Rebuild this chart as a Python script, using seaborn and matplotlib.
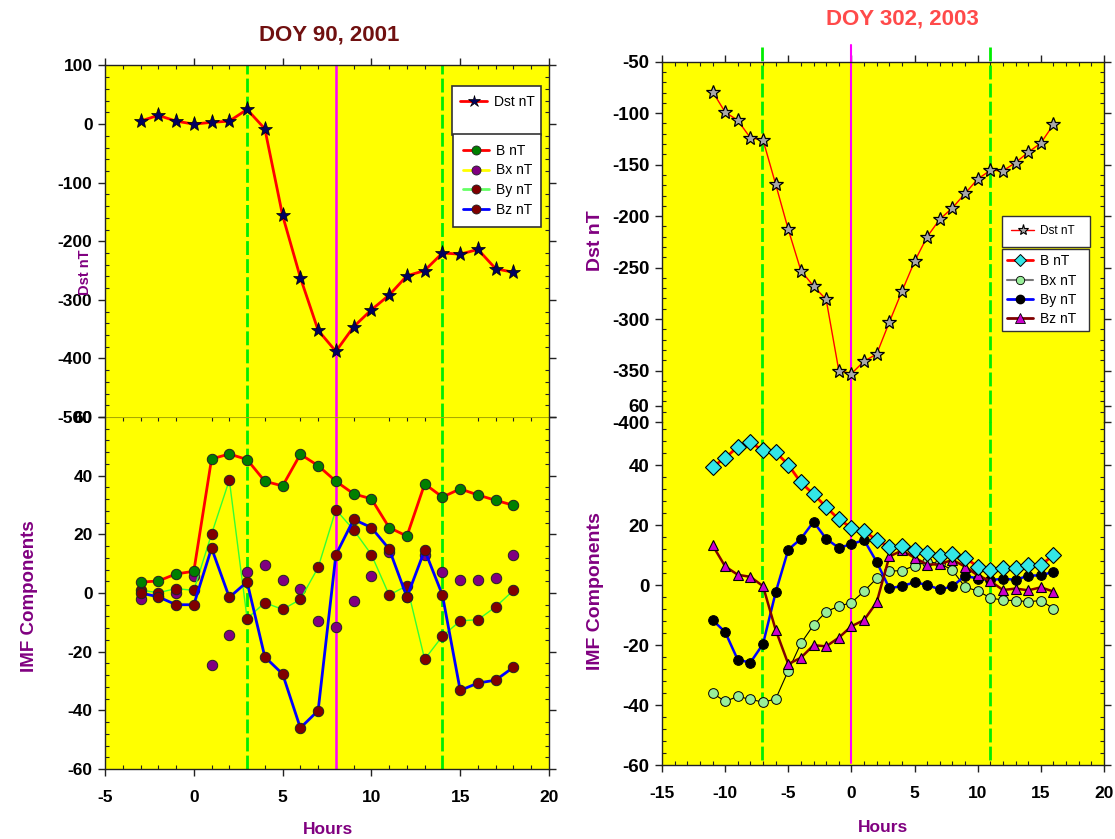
import numpy as np
import matplotlib
matplotlib.use("Agg")
import matplotlib.pyplot as plt
from matplotlib.lines import Line2D
from matplotlib.ticker import MultipleLocator
import seaborn as sns

# ---- DOY 90, 2001 (left) ----
hours_l = list(range(-3, 19))
dst_l = [5, 15, 5, 0, 3, 5, 25, -8, -156, -262, -352, -388, -346, -317,
         -292, -259, -250, -220, -222, -214, -247, -253]
b_l = [3.7, 4.1, 6.5, 7.4, 45.7, 47.4, 45.5, 38.1, 36.5, 47.3, 43.4, 38.1,
       33.8, 32.1, 22.3, 19.4, 37.2, 32.7, 35.5, 33.4, 31.6, 29.9]
bx_l = [-2.2, -1.0, 0.1, 5.8, -24.7, -14.2, 7.3, 9.5, 4.3, 1.4, -9.6, -11.7,
        -2.7, 5.9, 14.1, -1.4, 13.0, 7.3, 4.4, 4.4, 5.2, 13.0]
by_l = [1.0, 0.1, 1.5, 0.9, 20.1, 38.5, -8.7, -3.3, -5.6, -2.2, 8.7, 28.4,
        21.5, 13.1, -0.7, 2.5, -22.6, -14.7, -9.5, -9.1, -4.7, 0.9]
bz_l = [0.0, -1.3, -4.0, -4.0, 15.3, -1.5, 3.8, -21.8, -27.6, -46.0, -40.1,
        13.0, 25.1, 22.3, 15.0, -1.4, 14.6, -0.7, -33.2, -30.7, -29.7, -25.3]
vlines_l = [3, 14]
peak_l = 8

# ---- DOY 302, 2003 (right) ----
hours_r = list(range(-11, 17))
dst_r = [-79, -99, -107, -124, -126, -169, -213, -253, -268, -281, -350, -353,
         -341, -334, -303, -273, -244, -220, -203, -192, -178, -164, -155.5,
         -156, -148, -138, -129, -111]
b_r = [39.5, 42.5, 46.2, 47.7, 45.0, 44.5, 40.2, 34.3, 30.4, 26.1, 22.0, 19.2,
       18.2, 15.0, 12.9, 13.0, 11.8, 10.6, 9.9, 10.5, 9.2, 6.2, 5.1, 5.7, 5.8,
       6.8, 6.8, 10.0]
bx_r = [-36.0, -38.8, -37.1, -38.1, -39.0, -38.0, -28.5, -19.4, -13.3, -8.8,
        -7.0, -5.8, -2.0, 2.3, 4.7, 4.9, 6.5, 7.8, 7.3, 5.0, -0.6, -1.9, -4.2,
        -5.0, -5.1, -5.5, -5.1, -7.8]
by_r = [-11.6, -15.6, -24.9, -25.8, -19.6, -2.4, 11.9, 15.5, 21.2, 15.5, 12.5,
        13.7, 15.1, 7.8, -1.0, -0.3, 1.0, 0.1, -1.4, -0.4, 3.2, 2.2, 1.7, 2.2,
        1.8, 3.2, 3.3, 4.5]
bz_r = [13.4, 6.3, 3.5, 2.8, -0.3, -14.9, -26.3, -24.2, -20.0, -20.4, -17.5,
        -13.7, -11.6, -5.7, 9.6, 11.6, 9.2, 6.9, 7.0, 8.5, 6.2, 3.3, 1.4, -1.6,
        -1.1, -1.7, -0.7, -2.1]
vlines_r = [-7.1, 11]
peak_r = 0

sns.set_style("ticks")
plt.rcParams['font.family'] = ['Liberation Sans', 'DejaVu Sans']
plt.rcParams['font.weight'] = 'bold'
plt.rcParams['axes.unicode_minus'] = False
plt.rcParams['text.color'] = 'black'
plt.rcParams['xtick.color'] = '#222222'
plt.rcParams['ytick.color'] = '#222222'
plt.rcParams['xtick.labelcolor'] = 'black'
plt.rcParams['ytick.labelcolor'] = 'black'

W, H = 1115, 839
fig = plt.figure(figsize=(W / 100, H / 100), dpi=100)


def rect(x0, x1, y0, y1):
    return [x0 / W, 1 - y1 / H, (x1 - x0) / W, (y1 - y0) / H]


YEL = '#ffff00'
PURPLE = '#800080'


def style(ax, xmin, xmaj, ymin, ymaj, size, top=True, bottom=True):
    ax.set_facecolor(YEL)
    ax.xaxis.set_major_locator(MultipleLocator(xmaj))
    ax.xaxis.set_minor_locator(MultipleLocator(xmin))
    ax.yaxis.set_major_locator(MultipleLocator(ymaj))
    ax.yaxis.set_minor_locator(MultipleLocator(ymin))
    ax.tick_params(which='major', direction='out', length=5, width=1,
                   left=True, right=True, top=top, bottom=bottom,
                   labelsize=size, pad=4)
    ax.tick_params(which='minor', direction='in', length=3, width=0.8,
                   left=True, right=True, top=top, bottom=bottom)
    ax.tick_params(axis='x', pad=10, labelsize=12.5)
    for s in ax.spines.values():
        s.set_color('#222222')
        s.set_linewidth(1)
    ax.set_xlabel('')
    ax.set_ylabel('')


# ================= LEFT =================
axl_b = fig.add_axes(rect(105, 549, 417, 769))
axl_t = fig.add_axes(rect(105, 549, 65.5, 417))

sns.lineplot(x=hours_l, y=dst_l, ax=axl_t, color='red', lw=2, marker='*',
             ms=11, mfc='#000060', mec='black', mew=0.5, zorder=4)
sns.lineplot(x=hours_l, y=bx_l, ax=axl_b, color=YEL, lw=1.5, marker='o',
             ms=7.5, mfc=PURPLE, mec='#222222', mew=0.7, zorder=3)
sns.lineplot(x=hours_l, y=by_l, ax=axl_b, color='#33ff33', lw=1, marker='o',
             ms=7.5, mfc='#800000', mec='#222222', mew=0.7, zorder=3)
sns.lineplot(x=hours_l, y=bz_l, ax=axl_b, color='#0000ff', lw=2, marker='o',
             ms=7.5, mfc='#800000', mec='#222222', mew=0.7, zorder=3)
sns.lineplot(x=hours_l, y=b_l, ax=axl_b, color='red', lw=2, marker='o',
             ms=7.5, mfc='#008000', mec='#222222', mew=0.7, zorder=3)

for ax in (axl_t, axl_b):
    for v in vlines_l:
        ax.axvline(v, color='#00ee00', lw=2, dashes=(5, 1.5), zorder=2)
    ax.axvline(peak_l, color='#ff00ff', lw=1.8, zorder=2)
    ax.set_xlim(-5, 20)

axl_t.set_ylim(-500, 100)
axl_b.set_ylim(-60, 60)
style(axl_t, 1, 5, 20, 100, 12.5, top=True, bottom=False)
style(axl_b, 1, 5, 4, 20, 12.5, top=True, bottom=True)
axl_t.tick_params(labelbottom=False)
axl_t.spines['bottom'].set_visible(False)
axl_b.spines['top'].set_color('#aaaa00')
axl_b.spines['top'].set_linewidth(0.8)
axl_b.tick_params(which='major', top=False)

# ================= RIGHT =================
axr_b = fig.add_axes(rect(662, 1104, 405.5, 765))
axr_t = fig.add_axes(rect(662, 1104, 61.7, 422))

sns.lineplot(x=hours_r, y=dst_r, ax=axr_t, color='red', lw=1, marker='*',
             ms=10, mfc='#a8a8a8', mec='black', mew=0.9, zorder=4)
sns.lineplot(x=hours_r, y=b_r, ax=axr_b, color='red', lw=2, marker='D',
             ms=8, mfc='#33e6e6', mec='black', mew=0.8, zorder=4)
sns.lineplot(x=hours_r, y=bx_r, ax=axr_b, color='black', lw=0.8, marker='o',
             ms=7, mfc='#99ee99', mec='black', mew=0.7, zorder=3)
sns.lineplot(x=hours_r, y=by_r, ax=axr_b, color='#0000ff', lw=1.8, marker='o',
             ms=7, mfc='black', mec='black', mew=0.7, zorder=3)
sns.lineplot(x=hours_r, y=bz_r, ax=axr_b, color='#800000', lw=1.8, marker='^',
             ms=7.5, mfc='#cc00cc', mec='black', mew=0.8, zorder=3)

for v in vlines_r:
    axr_t.axvline(v, ymin=0, ymax=1.047, color='#00ee00', lw=2,
                  dashes=(5, 1.5), zorder=2, clip_on=False)
    axr_b.axvline(v, ymin=0.015, ymax=1, color='#00ee00', lw=2,
                  dashes=(5, 1.5), zorder=2)
axr_t.axvline(peak_r, ymin=0, ymax=1.045, color='#ff00ff', lw=1.5, zorder=2,
              clip_on=False)
axr_b.axvline(peak_r, ymin=0.005, ymax=1, color='#ff00ff', lw=1.5, zorder=2)

for ax in (axr_t, axr_b):
    ax.set_xlim(-15, 20)
axr_t.set_ylim(-400, -50)
axr_b.set_ylim(-60, 60)
style(axr_t, 1, 5, 10, 50, 13.5, top=True, bottom=False)
style(axr_b, 1, 5, 4, 20, 13.5, top=False, bottom=True)
axr_t.tick_params(labelbottom=False)
axr_t.spines['bottom'].set_visible(False)
axr_b.spines['top'].set_visible(False)

# ================= LEGENDS =================
leg_kw = dict(loc='upper left', mode='expand', frameon=True, fancybox=False,
              framealpha=1, edgecolor='#333333', borderaxespad=0,
              handlelength=1.9, handletextpad=0.5,
              bbox_transform=fig.transFigure)


def fbox(x0, x1, y0):
    return (x0 / W, 1 - y0 / H, (x1 - x0) / W, 1e-4)


blank = Line2D([], [], linestyle='none')
h_dst_l = Line2D([], [], color='red', lw=2, marker='*', ms=9, mfc='#000060',
                 mec='black', mew=0.5)
lg1 = fig.legend([h_dst_l, blank], ['Dst nT', ' '], bbox_to_anchor=fbox(452, 541, 86.5),
                 prop={'weight': 'normal', 'size': 10}, borderpad=0.6,
                 labelspacing=0.3, **leg_kw)
lg1.get_frame().set_linewidth(1.2)
h_l = [Line2D([], [], color=c, lw=2, marker='o', ms=6.5, mfc=f, mec='#222222', mew=0.6)
       for c, f in [('red', '#008000'), (YEL, PURPLE), ('#66ff66', '#800000'),
                    ('#0000ff', '#800000')]]
lg2 = fig.legend(h_l, ['B nT', 'Bx nT', 'By nT', 'Bz nT'],
                 bbox_to_anchor=fbox(453, 541, 134), prop={'weight': 'normal', 'size': 10},
                 borderpad=0.7, labelspacing=0.42, **leg_kw)
lg2.get_frame().set_linewidth(1.2)

h_dst_r = Line2D([], [], color='red', lw=1, marker='*', ms=8, mfc='#a8a8a8',
                 mec='black', mew=0.8)
lg3 = fig.legend([h_dst_r], ['Dst nT'], bbox_to_anchor=fbox(1002, 1090, 216),
                 prop={'weight': 'normal', 'size': 8.5}, borderpad=0.8,
                 labelspacing=0.3, **leg_kw)
h_r = [Line2D([], [], color='red', lw=2, marker='D', ms=6.5, mfc='#33e6e6', mec='black', mew=0.7),
       Line2D([], [], color='#777777', lw=1.5, marker='o', ms=6, mfc='#99ee99', mec='black', mew=0.6),
       Line2D([], [], color='#0000ff', lw=2, marker='o', ms=6, mfc='black', mec='black'),
       Line2D([], [], color='#800000', lw=2, marker='^', ms=6.5, mfc='#cc00cc', mec='black', mew=0.6)]
lg4 = fig.legend(h_r, ['B nT', 'Bx nT', 'By nT', 'Bz nT'],
                 bbox_to_anchor=fbox(1002, 1089, 249.5), prop={'weight': 'normal', 'size': 10},
                 borderpad=0.35, labelspacing=0.38, **leg_kw)

# ================= TEXT =================
fig.text(329 / W, 1 - 35 / H, 'DOY 90, 2001', color='#701010', fontsize=16,
         fontweight='bold', ha='center', va='center')
fig.text(902 / W, 1 - 19 / H, 'DOY 302, 2003', color='#ff4a4a', fontsize=16,
         fontweight='bold', ha='center', va='center')
lab = dict(color=PURPLE, fontweight='bold', ha='center', va='center', rotation=90)
fig.text(85 / W, 1 - 272 / H, 'Dst nT', fontsize=10.5, **lab)
fig.text(30 / W, 1 - 596 / H, 'IMF Components', fontsize=13.5, **lab)
fig.text(595 / W, 1 - 241 / H, 'Dst nT', fontsize=14, **lab)
fig.text(595 / W, 1 - 591 / H, 'IMF Components', fontsize=14, **lab)
fig.text(328 / W, 1 - 829 / H, 'Hours', color=PURPLE, fontsize=12.5,
         fontweight='bold', ha='center', va='center')
fig.text(883 / W, 1 - 828 / H, 'Hours', color=PURPLE, fontsize=12.5,
         fontweight='bold', ha='center', va='center')

fig.savefig('out.png', dpi=100)
